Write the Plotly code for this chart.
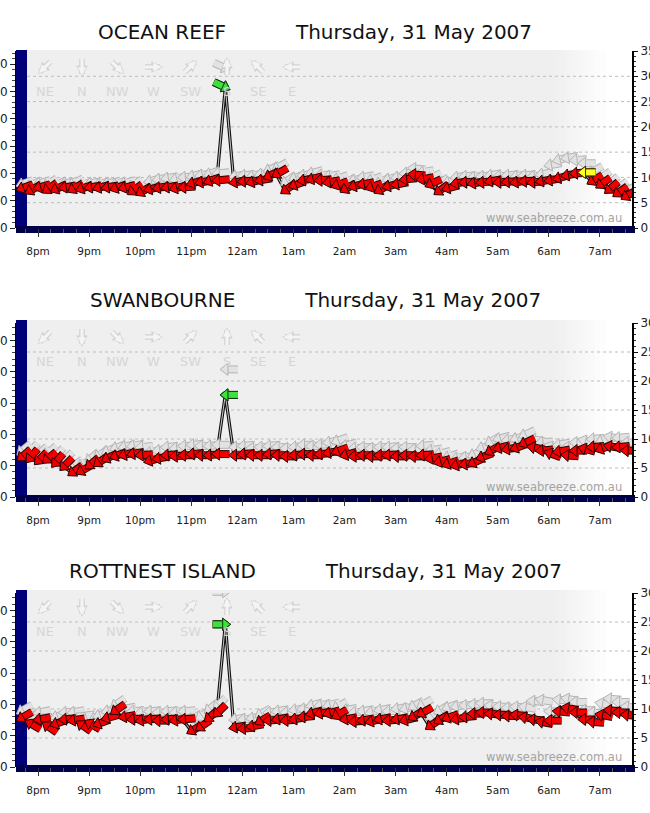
import math
import pandas as pd
import plotly.graph_objects as go

W, H = 650, 813
FONT = "DejaVu Sans"

# 10-minute readings through the night
TIMES = pd.date_range("2007-05-30 19:40", "2007-05-31 07:30", freq="10min")
TICK_TIMES = pd.date_range("2007-05-30 20:00", "2007-05-31 07:00", freq="1h")
TICK_TEXT = ["8pm", "9pm", "10pm", "11pm", "12am", "1am", "2am", "3am", "4am", "5am", "6am", "7am"]
X_RANGE = ["2007-05-30 19:34:10", "2007-05-31 07:37:37"]
DATE_TEXT = "Thursday, 31 May 2007"
COMPASS = ["NE", "N", "NW", "W", "SW", "S", "SE", "E"]
COMPASS_DEG = [45, 0, 315, 270, 225, 180, 135, 90]

# Ocean Reef (knots, direction wind comes from)
OR_SPEED = [7.8, 7.3, 8.0, 7.5, 7.6, 8.0, 7.6, 7.7, 8.0, 7.9, 8.0, 7.8, 7.9,
            7.2, 7.0, 7.6, 7.9, 8.0, 7.8, 8.0, 8.8, 9.0, 9.2, 9.4,
            27.8,
            9.0, 9.2, 9.0, 9.4, 10.2, 10.6, 7.4, 8.4, 9.4, 9.6, 9.4,
            9.0, 8.4, 7.6, 8.2, 8.6, 8.0, 7.4, 8.2, 8.6, 9.6, 10.6, 9.6,
            8.6, 7.2, 7.8, 8.8, 9.0, 8.8, 9.0, 9.2, 9.0, 9.1, 9.0, 9.2, 9.0, 9.2,
            9.4, 9.8, 10.4, 10.8, 11.0, 9.2, 8.5, 7.5, 6.8, 6.2]
OR_GUST = [8.6, 8.2, 8.8, 8.4, 8.4, 8.8, 8.6, 8.4, 8.8, 8.6, 8.8, 8.6, 8.8,
           8.2, 8.0, 9.2, 9.6, 9.8, 9.6, 10.0, 10.2, 10.4, 10.6, 10.8,
           31.6,
           10.2, 10.4, 10.2, 10.6, 11.4, 11.8, 9.0, 9.8, 10.4, 10.8, 10.4,
           10.2, 9.6, 8.8, 9.4, 10.0, 9.4, 8.8, 9.6, 10.0, 10.8, 11.8, 11.0,
           9.8, 8.6, 9.0, 10.0, 10.2, 10.0, 10.2, 10.4, 10.2, 10.4, 10.2, 10.4, 10.2, 10.6,
           12.4, 13.4, 13.8, 13.4, 12.8, 11.0, 9.8, 8.6, 7.8, 7.2]
OR_DIR = [70, 60, 75, 55, 65, 80, 60, 70, 80, 75, 80, 70, 75,
          55, 60, 75, 80, 80, 75, 85, 75, 80, 70, 85,
          295,
          80, 85, 75, 80, 65, 60, 55, 70, 80, 75, 85,
          80, 70, 60, 75, 80, 70, 60, 75, 80, 85, 95, 80,
          65, 55, 75, 80, 85, 80, 85, 80, 85, 85, 80, 85, 85, 80,
          80, 75, 80, 85, 90, 60, 55, 50, 55, 60]
OR_YELLOW = ["2007-05-31 06:40"]

# Swanbourne
SW_SPEED = [6.8, 6.6, 6.2, 6.4, 5.8, 5.2, 4.2, 4.4, 5.4, 5.8, 6.6, 7.0, 7.2,
            7.4, 7.2, 6.2, 6.6, 7.2, 7.0, 7.2, 7.4, 7.2, 7.2, 7.4,
            17.6,
            7.2, 7.4, 7.2, 7.2, 7.4, 7.2, 7.0, 7.2, 7.4, 7.2, 7.4,
            7.6, 7.8, 7.2, 7.0, 7.2, 7.0, 7.2, 7.2, 7.0, 7.2, 7.0, 7.2,
            6.6, 6.0, 5.6, 5.4, 5.6, 5.8,
            6.8, 7.8, 8.4, 8.2, 8.4, 9.2, 8.6, 8.0, 7.6, 7.8, 7.2, 8.0,
            8.4, 8.6, 8.2, 8.8, 8.6, 8.0]
SW_GUST = [7.8, 7.6, 7.2, 7.4, 6.8, 6.2, 5.2, 5.4, 6.4, 7.0, 7.8, 8.4, 8.6,
           8.8, 8.6, 7.6, 8.0, 8.6, 8.4, 8.8, 9.0, 8.8, 8.8, 9.0,
           22.0,
           8.6, 8.8, 8.4, 8.6, 8.8, 8.6, 8.4, 8.6, 9.0, 8.8, 9.0,
           9.4, 9.6, 8.8, 8.4, 8.6, 8.4, 8.6, 8.6, 8.4, 8.6, 8.2, 8.8,
           8.0, 7.4, 6.8, 6.6, 6.8, 7.2,
           8.4, 9.4, 10.0, 9.8, 10.0, 10.6, 10.0, 9.4, 8.8, 9.0, 8.6, 9.4,
           9.8, 10.0, 9.6, 10.4, 10.2, 9.4]
SW_DIR = [50, 40, 45, 50, 40, 45, 55, 60, 50, 55, 65, 70, 75,
          80, 85, 75, 80, 85, 85, 90, 85, 90, 85, 90,
          90,
          90, 85, 90, 90, 85, 90, 90, 85, 90, 90, 85,
          80, 70, 75, 85, 90, 90, 90, 85, 90, 90, 90, 85,
          80, 75, 70, 75, 80, 65,
          70, 60, 75, 80, 70, 65, 100, 85, 110, 80, 95, 90,
          105, 85, 70, 100, 85, 90]
SW_YELLOW = []

# Rottnest Island
RI_SPEED = [8.4, 7.6, 8.2, 7.2, 7.4, 8.2, 8.0, 7.4, 7.6, 7.4, 8.4, 9.6, 8.6,
            8.2, 8.0, 8.2, 8.0, 8.2, 8.0, 8.2, 6.2, 6.8, 8.4, 9.2,
            24.6,
            6.8, 6.6, 7.0, 7.8, 8.0, 8.2, 8.0, 8.2, 8.6, 9.2, 9.2,
            9.2, 8.8, 8.2, 7.8, 8.0, 7.8, 8.2, 8.0, 8.2, 8.0, 8.6, 9.2,
            7.0, 8.0, 8.4, 8.2, 8.6, 9.2, 9.4, 9.2, 9.0, 8.8, 9.0, 8.6,
            8.2, 7.8, 8.0, 9.6, 10.2, 9.4, 8.2, 7.8, 9.0, 9.8, 9.4, 9.0]
RI_GUST = [9.6, 9.0, 9.4, 8.6, 8.6, 9.4, 9.4, 8.8, 9.0, 8.8, 9.6, 10.6, 10.0,
           9.6, 9.4, 9.6, 9.4, 9.6, 9.4, 9.6, 8.2, 8.6, 9.8, 10.4,
           30.2,
           8.2, 8.2, 8.4, 9.0, 9.4, 9.6, 9.4, 9.8, 10.0, 10.6, 10.6,
           10.6, 10.2, 9.8, 9.4, 9.6, 9.4, 9.8, 9.6, 10.0, 10.0, 10.4, 10.6,
           8.6, 9.6, 10.2, 10.4, 10.6, 10.8, 11.0, 10.6, 10.4, 10.2, 10.4, 10.4,
           11.4, 11.6, 9.6, 11.6, 11.8, 11.2, 9.8, 9.4, 11.0, 11.8, 11.2, 10.4]
RI_DIR = [60, 120, 80, 125, 70, 85, 80, 125, 120, 70, 75, 55, 80,
          85, 80, 85, 90, 85, 80, 85, 60, 55, 50, 45,
          270,
          80, 85, 80, 60, 85, 80, 85, 80, 85, 75, 80,
          75, 60, 80, 85, 80, 75, 80, 85, 80, 75, 60, 60,
          55, 60, 70, 80, 85, 90, 90, 95, 90, 90, 95, 100,
          95, 100, 90, 95, 100, 90, 90, 95, 100, 95, 90, 95]
RI_YELLOW = []

STATIONS = [
    ("OCEAN REEF", 35, OR_SPEED, OR_GUST, OR_DIR, OR_YELLOW),
    ("SWANBOURNE", 30, SW_SPEED, SW_GUST, SW_DIR, SW_YELLOW),
    ("ROTTNEST ISLAND", 30, RI_SPEED, RI_GUST, RI_DIR, RI_YELLOW),
]

# pixel layout of each panel: top of grey area, y of 0 kn, y of top kn, title y
PANELS = [(50, 228, 51, 32), (320, 497, 323, 300), (590, 767, 593, 571)]
PLOT_L, PLOT_R = 16, 632
COMPASS_X = [45, 82, 117, 153, 190, 227, 258, 292]

KMH = 1.852
HEAD_SIZE = 10.5
SHAFT_SIZE = 7.8
SHAFT_OFF = 7.2


def px(x):
    return x / W


def py(y):
    return 1 - y / H


fig = go.Figure()
shapes = []
annotations = []


def add_arrows(t, v, d, fill, edge, xa, ya):
    ang = [(a + 180) % 360 for a in d]
    common = dict(x=list(t), y=list(v), mode="markers", xaxis=xa, yaxis=ya,
                  hoverinfo="skip", showlegend=False)
    fig.add_trace(go.Scatter(**common, marker=dict(
        symbol="line-ns", size=SHAFT_SIZE, angle=ang, standoff=SHAFT_OFF,
        color=edge, line=dict(color=edge, width=8))))
    fig.add_trace(go.Scatter(**common, marker=dict(
        symbol="line-ns", size=SHAFT_SIZE, angle=ang, standoff=SHAFT_OFF,
        color=fill, line=dict(color=fill, width=6))))
    fig.add_trace(go.Scatter(**common, marker=dict(
        symbol="triangle-up", size=HEAD_SIZE, angle=ang,
        color=fill, line=dict(color=edge, width=1))))


for k, (name, top, speed, gust, dirs, yellow) in enumerate(STATIONS):
    bg_top, zero_y, top_y, title_y = PANELS[k]
    n = k + 1
    xid, xkey = f"x{n}", f"xaxis{n}"
    ykn, yknkey = f"y{2 * k + 1}", f"yaxis{2 * k + 1}"
    ykm, ykmkey = f"y{2 * k + 2}", f"yaxis{2 * k + 2}"
    dom = [py(zero_y), py(top_y)]

    # grey plot background fading out to the right
    shapes.append(dict(type="rect", xref="paper", yref="paper", layer="below",
                       x0=px(27), x1=px(556), y0=py(zero_y - 2), y1=py(bg_top),
                       fillcolor="#efefef", line=dict(width=0)))
    steps = 10
    for s in range(steps):
        g = int(0xef + (0xff - 0xef) * (s + 1) / (steps + 1))
        shapes.append(dict(type="rect", xref="paper", yref="paper", layer="below",
                           x0=px(555 + 5 * s), x1=px(561 + 5 * s),
                           y0=py(zero_y - 2), y1=py(bg_top),
                           fillcolor=f"rgb({g},{g},{g})", line=dict(width=0)))
    for v in range(5, top, 5):
        shapes.append(dict(type="line", xref="paper", yref=ykn, layer="below",
                           x0=px(27), x1=px(PLOT_R), y0=v, y1=v,
                           line=dict(color="#bdbdbd", width=1, dash="dot")))
    # navy frame
    shapes.append(dict(type="rect", xref="paper", yref="paper", layer="below",
                       x0=px(16), x1=px(27), y0=py(zero_y + 5), y1=py(bg_top),
                       fillcolor="#000078", line=dict(width=0)))
    shapes.append(dict(type="rect", xref="paper", yref="paper", layer="below",
                       x0=px(16), x1=px(635), y0=py(zero_y + 5), y1=py(zero_y - 2),
                       fillcolor="#00004a", line=dict(width=0)))

    # empty trace so the km/h axis has its subplot
    fig.add_trace(go.Scatter(x=[], y=[], xaxis=xid, yaxis=ykm, showlegend=False))

    # speed line under the arrows
    fig.add_trace(go.Scatter(x=TIMES, y=speed, mode="lines", xaxis=xid, yaxis=ykn,
                             line=dict(color="#111111", width=3.2),
                             hoverinfo="skip", showlegend=False))
    fig.add_trace(go.Scatter(x=TIMES, y=speed, mode="lines", xaxis=xid, yaxis=ykn,
                             line=dict(color="#c8c8c8", width=1),
                             hoverinfo="skip", showlegend=False))

    add_arrows(TIMES, gust, dirs, "#e2e2e2", "#b4b4b4", xid, ykn)
    add_arrows(TIMES, speed, dirs, "#f20000", "#2a0000", xid, ykn)

    top_i = max(range(len(speed)), key=lambda i: speed[i])
    add_arrows([TIMES[top_i]], [speed[top_i]], [dirs[top_i]], "#3ee03e", "#0b3a0b", xid, ykn)
    for s in yellow:
        i = TIMES.get_loc(pd.Timestamp(s))
        add_arrows([TIMES[i]], [speed[i]], [dirs[i]], "#ffff22", "#3a3300", xid, ykn)

    fig.layout[xkey] = dict(
        domain=[px(PLOT_L), px(PLOT_R)], anchor=ykn, type="date", range=X_RANGE,
        tickmode="array", tickvals=list(TICK_TIMES), ticktext=TICK_TEXT,
        ticks="outside", ticklen=8, tickcolor="#333333", ticklabelstandoff=5,
        minor=dict(ticks="outside", ticklen=4, tickcolor="#555555",
                   tickmode="linear", tick0="2007-05-30 20:00", dtick=15 * 60 * 1000),
        showgrid=False, showline=False, zeroline=False, fixedrange=True,
        automargin=False,
        tickfont=dict(family=FONT, size=10.5, color="#1a1a1a"))
    fig.layout[yknkey] = dict(
        domain=dom, anchor=xid, side="right", range=[0, top], dtick=5,
        ticks="outside", ticklen=4, tickcolor="#111111",
        minor=dict(ticks="outside", ticklen=2, dtick=1, tickcolor="#333333"),
        showline=True, linecolor="#000000", linewidth=2,
        showgrid=False, zeroline=False, fixedrange=True, automargin=False,
        tickfont=dict(family=FONT, size=12, color="#222222"))
    fig.layout[ykmkey] = dict(
        domain=dom, anchor=xid, side="left", range=[0, top * KMH], dtick=10,
        ticks="outside", ticklen=5, tickcolor="#222222",
        minor=dict(ticks="outside", ticklen=3, dtick=2, tickcolor="#444444"),
        showline=True, linecolor="#000000", linewidth=1,
        showgrid=False, zeroline=False, fixedrange=True, automargin=False,
        tickfont=dict(family=FONT, size=12, color="#222222"))

    annotations.append(dict(
        text=name + "\u00a0" * 11 + DATE_TEXT, x=px(315), y=py(title_y),
        xref="paper", yref="paper", xanchor="center", yanchor="middle",
        showarrow=False, font=dict(family=FONT, size=20, color="#111111")))
    annotations.append(dict(
        text="www.seabreeze.com.au", x=px(624), y=py(zero_y - 10),
        xref="paper", yref="paper", xanchor="right", yanchor="middle",
        showarrow=False, font=dict(family=FONT, size=11.5, color="#a3a3a3")))

    # faded compass key: outlined arrows
    for lab, deg, cx in zip(COMPASS, COMPASS_DEG, COMPASS_X):
        toward = math.radians((deg + 180) % 360)
        ux, uy = math.sin(toward), -math.cos(toward)
        cy = bg_top + 17
        for width, size, col, back in [(5.5, 0.42, "#d2d2d2", 10), (3.2, 0.52, "#f4f4f4", 8.6)]:
            annotations.append(dict(
                text="", x=px(cx + back * ux), y=py(cy + back * uy),
                xref="paper", yref="paper",
                ax=-(back + 9.5) * ux, ay=-(back + 9.5) * uy, showarrow=True,
                arrowhead=2, arrowsize=size, arrowwidth=width, arrowcolor=col))
        annotations.append(dict(
            text=lab, x=px(cx), y=py(bg_top + 41), xref="paper", yref="paper",
            xanchor="center", yanchor="middle", showarrow=False,
            font=dict(family=FONT, size=13, color="#d6d6d6")))

fig.update_layout(
    width=W, height=H, margin=dict(l=0, r=0, t=0, b=0, autoexpand=False),
    paper_bgcolor="white", plot_bgcolor="rgba(0,0,0,0)",
    shapes=shapes, annotations=annotations, showlegend=False)

# the page's default 8px body margin would shift the whole figure
fig.write_html("out.html", config={"displayModeBar": False},
               post_script="document.body.style.margin='0';document.body.style.overflow='hidden';")
